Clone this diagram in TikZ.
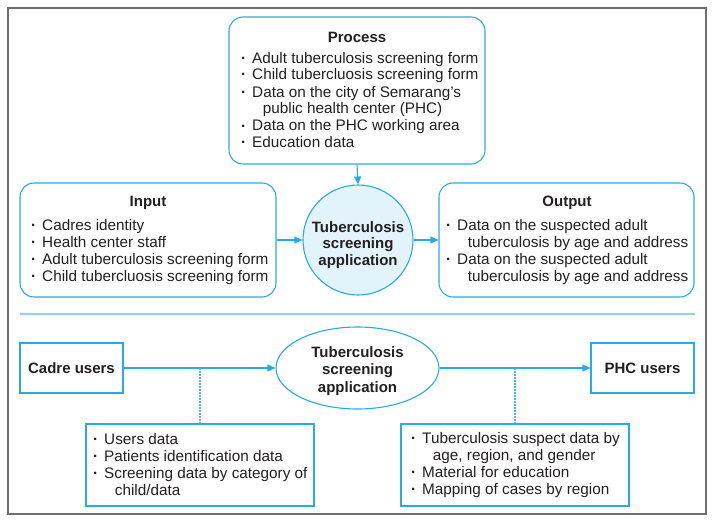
\documentclass[tikz,border=0pt]{standalone}
\usepackage{fontspec}
\setmainfont{Liberation Sans}
\usetikzlibrary{arrows.meta,shapes.geometric}
\definecolor{cblue}{HTML}{29ABE2}
\definecolor{cfill}{HTML}{E2F3FC}
\definecolor{ctext}{HTML}{231F20}
\definecolor{csep}{HTML}{8DD3F3}
\definecolor{cframe}{HTML}{6E6E6E}
\newcommand\bl{\makebox[0.72em][l]{\textbf{·}}}
\newcommand\ct{\hspace*{1.42em}}
\begin{document}
\begin{tikzpicture}[x=1pt,y=-1pt,
  font=\fontsize{15.3}{17}\selectfont, text=ctext,
  rbox/.style={draw=cblue, line width=1.1pt, rounded corners=14pt, inner sep=0},
  sbox/.style={draw=cblue, line width=1.1pt, inner sep=0},
  ttl/.style={font=\fontsize{15}{17}\selectfont\bfseries, anchor=base, inner sep=0, align=center},
  lst/.style={align=left, anchor=base west, inner sep=0},
  arr/.style={draw=cblue, line width=1.1pt, -{Triangle[length=8pt,width=7pt]}},
  dotl/.style={draw=cblue!85, line width=1.2pt, dash pattern=on 1.5pt off 1.5pt}
]
\useasboundingbox (0,0) rectangle (715,524);
% frame and separator
\draw[cframe, line width=1.6pt] (8,8) rectangle (706,514);
\draw[csep, line width=1.5pt] (20,314) -- (695,314);

% top half
\node[rbox, minimum width=256, minimum height=147] (proc) at (357,90.5) {};
\node[rbox, minimum width=256, minimum height=114] (inp) at (148,240) {};
\node[rbox, minimum width=255, minimum height=114] (out) at (566.5,240) {};
\node[circle, draw=cblue, fill=cfill, line width=1.1pt, minimum size=110, inner sep=0] (app) at (358,240) {};

% anchors of multi-line texts are at the baseline of their last line
\node[ttl] (proct) at (357,43) {Process};
\node[lst] (procl) at (241,148) {\bl Adult tuberculosis screening form\\
\bl Child tubercluosis screening form\\
\bl Data on the city of Semarang’s\\
\ct public health center (PHC)\\
\bl Data on the PHC working area\\
\bl Education data};

\node[ttl] (inpt) at (148,207) {Input};
\node[lst] (inpl) at (31,281) {\bl Cadres identity\\
\bl Health center staff\\
\bl Adult tuberculosis screening form\\
\bl Child tubercluosis screening form};

\node[ttl] (outt) at (567,207) {Output};
\node[lst] (outl) at (446,281) {\bl Data on the suspected adult\\
\ct tuberculosis by age and address\\
\bl Data on the suspected adult\\
\ct tuberculosis by age and address};

\node[ttl, font=\fontsize{15}{16.5}\selectfont\bfseries] (appt) at (358,265) {Tuberculosis\\screening\\application};

\draw[arr] (proc.south) -- (app.north);
\draw[arr] (inp.east) -- (app.west);
\draw[arr] (app.east) -- (out.west);

% bottom half
\node[sbox, minimum width=103, minimum height=50] (cadre) at (71.5,368) {};
\node[ttl] (cadret) at (71.5,373) {Cadre users};
\node[ellipse, draw=cblue, line width=1.1pt, minimum width=163, minimum height=82, inner sep=0] (ell) at (357.5,368) {};
\node[ttl, font=\fontsize{15}{17.5}\selectfont\bfseries] (ellt) at (357.5,392) {Tuberculosis\\screening\\application};
\node[sbox, minimum width=103, minimum height=50] (phc) at (642.5,368) {};
\node[ttl] (phct) at (642.5,373) {PHC users};

\draw[arr] (cadre.east) -- (ell.west);
\draw[arr] (ell.east) -- (phc.west);

\node[sbox, minimum width=228, minimum height=82] (lb) at (200,465) {};
\node[sbox, minimum width=228, minimum height=82] (rb) at (515,465) {};
\coordinate (d1) at (200,368);
\coordinate (d2) at (515,368);
\draw[dotl] (d1) -- (lb.north);
\draw[dotl] (d2) -- (rb.north);

\node[lst] (lbl) at (93,495) {\bl Users data\\
\bl Patients identification data\\
\bl Screening data by category of\\
\ct child/data};
\node[lst] (rbl) at (411,494) {\bl Tuberculosis suspect data by\\
\ct age, region, and gender\\
\bl Material for education\\
\bl Mapping of cases by region};
\end{tikzpicture}
\end{document}
